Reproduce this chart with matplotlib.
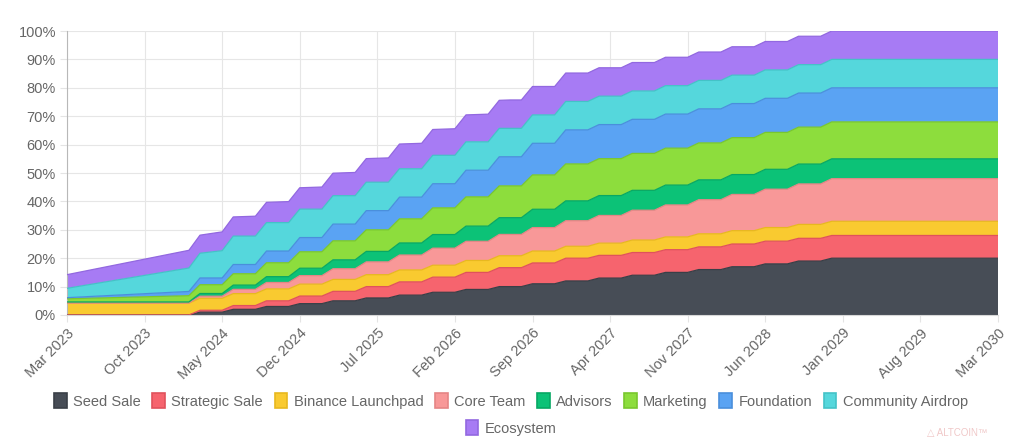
import matplotlib
matplotlib.use("Agg")
import numpy as np
import matplotlib.pyplot as plt
from matplotlib.patches import Patch

plt.rcParams['font.family'] = ['Liberation Sans', 'DejaVu Sans']

# tick labels (every 7 months, Mar 2023 -> Mar 2030, monthly data points)
tick_labels = ["Mar 2023", "Oct 2023", "May 2024", "Dec 2024", "Jul 2025", "Feb 2026",
               "Sep 2026", "Apr 2027", "Nov 2027", "Jun 2028", "Jan 2029", "Aug 2029", "Mar 2030"]

names = ["Seed Sale", "Strategic Sale", "Binance Launchpad", "Core Team", "Advisors",
         "Marketing", "Foundation", "Community Airdrop", "Ecosystem"]

# unlocked share of total supply (%), one value per month
seed_sale = [0, 0, 0, 0, 0, 0, 0, 0, 0, 0, 0, 0,
             1, 1, 1, 2, 2, 2, 3, 3, 3, 4, 4, 4, 5, 5, 5, 6, 6, 6, 7, 7, 7, 8, 8, 8,
             9, 9, 9, 10, 10, 10, 11, 11, 11, 12, 12, 12, 13, 13, 13, 14, 14, 14,
             15, 15, 15, 16, 16, 16, 17, 17, 17, 18, 18, 18, 19, 19, 19,
             20, 20, 20, 20, 20, 20, 20, 20, 20, 20, 20, 20, 20, 20, 20, 20]
strategic_sale = [0, 0, 0, 0, 0, 0, 0, 0, 0, 0, 0, 0,
                  0.67, 0.67, 0.67, 1.33, 1.33, 1.33, 2.0, 2.0, 2.0, 2.67, 2.67, 2.67,
                  3.33, 3.33, 3.33, 4.0, 4.0, 4.0, 4.67, 4.67, 4.67, 5.33, 5.33, 5.33,
                  6.0, 6.0, 6.0, 6.67, 6.67, 6.67, 7.33, 7.33, 7.33,
                  8, 8, 8, 8, 8, 8, 8, 8, 8, 8, 8, 8, 8, 8, 8, 8, 8, 8, 8, 8,
                  8, 8, 8, 8, 8, 8, 8, 8, 8, 8, 8, 8, 8, 8, 8, 8, 8, 8, 8, 8]
binance_launchpad = [4.2, 4.2, 4.2, 4.2, 4.2, 4.2, 4.2, 4.2, 4.2, 4.2, 4.2, 4.2,
                     4.2, 4.2, 4.2, 4.2, 4.2, 4.2, 4.2, 4.2, 4.2, 4.2, 4.2, 4.2,
                     4.2, 4.2, 4.2, 4.2, 4.2, 4.2, 4.2, 4.2, 4.2, 4.2, 4.2, 4.2,
                     4.2, 4.2, 4.2, 4.2, 4.2, 4.2, 4.2, 4.2, 4.2, 4.2, 4.2, 4.2,
                     4.3, 4.3, 4.3, 4.4, 4.4, 4.4, 4.5, 4.5, 4.5, 4.6, 4.6, 4.6,
                     4.7, 4.7, 4.7, 4.8, 4.8, 4.8, 4.9, 4.9, 4.9,
                     5, 5, 5, 5, 5, 5, 5, 5, 5, 5, 5, 5, 5, 5, 5, 5]
core_team = [0, 0, 0, 0, 0, 0, 0, 0, 0, 0, 0, 0,
             0.75, 0.75, 0.75, 1.5, 1.5, 1.5, 2.25, 2.25, 2.25, 3.0, 3.0, 3.0,
             3.75, 3.75, 3.75, 4.5, 4.5, 4.5, 5.25, 5.25, 5.25, 6.0, 6.0, 6.0,
             6.75, 6.75, 6.75, 7.5, 7.5, 7.5, 8.25, 8.25, 8.25, 9.0, 9.0, 9.0,
             9.75, 9.75, 9.75, 10.5, 10.5, 10.5, 11.25, 11.25, 11.25, 12.0, 12.0, 12.0,
             12.75, 12.75, 12.75, 13.5, 13.5, 13.5, 14.25, 14.25, 14.25,
             15, 15, 15, 15, 15, 15, 15, 15, 15, 15, 15, 15, 15, 15, 15, 15]
advisors = [0.4, 0.4, 0.4, 0.4, 0.4, 0.4, 0.4, 0.4, 0.4, 0.4, 0.4, 0.4,
            0.95, 0.95, 0.95, 1.5, 1.5, 1.5, 2.05, 2.05, 2.05, 2.6, 2.6, 2.6,
            3.15, 3.15, 3.15, 3.7, 3.7, 3.7, 4.25, 4.25, 4.25, 4.8, 4.8, 4.8,
            5.35, 5.35, 5.35, 5.9, 5.9, 5.9, 6.45, 6.45, 6.45,
            7, 7, 7, 7, 7, 7, 7, 7, 7, 7, 7, 7, 7, 7, 7, 7, 7, 7, 7, 7,
            7, 7, 7, 7, 7, 7, 7, 7, 7, 7, 7, 7, 7, 7, 7, 7, 7, 7, 7, 7]
marketing = [1.1, 1.2, 1.3, 1.4, 1.5, 1.6, 1.7, 1.8, 1.9, 2.0, 2.1, 2.2,
             3.1, 3.1, 3.1, 4.0, 4.0, 4.0, 4.9, 4.9, 4.9, 5.8, 5.8, 5.8,
             6.7, 6.7, 6.7, 7.6, 7.6, 7.6, 8.5, 8.5, 8.5, 9.4, 9.4, 9.4,
             10.3, 10.3, 10.3, 11.2, 11.2, 11.2, 12.1, 12.1, 12.1,
             13, 13, 13, 13, 13, 13, 13, 13, 13, 13, 13, 13, 13, 13, 13, 13, 13, 13, 13, 13,
             13, 13, 13, 13, 13, 13, 13, 13, 13, 13, 13, 13, 13, 13, 13, 13, 13, 13, 13, 13]
foundation = [0.4, 0.5, 0.6, 0.7, 0.8, 0.9, 1.0, 1.1, 1.2, 1.3, 1.4, 1.5,
              2.38, 2.38, 2.38, 3.25, 3.25, 3.25, 4.13, 4.13, 4.13, 5.0, 5.0, 5.0,
              5.88, 5.88, 5.88, 6.75, 6.75, 6.75, 7.63, 7.63, 7.63, 8.5, 8.5, 8.5,
              9.38, 9.38, 9.38, 10.25, 10.25, 10.25, 11.13, 11.13, 11.13,
              12, 12, 12, 12, 12, 12, 12, 12, 12, 12, 12, 12, 12, 12, 12, 12, 12, 12, 12, 12,
              12, 12, 12, 12, 12, 12, 12, 12, 12, 12, 12, 12, 12, 12, 12, 12, 12, 12, 12, 12]
community_airdrop = [3.3, 3.75, 4.2, 4.65, 5.1, 5.55, 6.0, 6.45, 6.9, 7.35, 7.8, 8.25,
                     8.7, 9.15, 9.6, 10, 10, 10, 10, 10, 10, 10, 10, 10, 10, 10, 10, 10, 10, 10,
                     10, 10, 10, 10, 10, 10, 10, 10, 10, 10, 10, 10, 10, 10, 10, 10, 10, 10,
                     10, 10, 10, 10, 10, 10, 10, 10, 10, 10, 10, 10, 10, 10, 10, 10, 10, 10,
                     10, 10, 10, 10, 10, 10, 10, 10, 10, 10, 10, 10, 10, 10, 10, 10, 10, 10, 10]
ecosystem = [4.8, 4.93, 5.06, 5.19, 5.32, 5.45, 5.58, 5.71, 5.84, 5.97, 6.1, 6.23,
             6.36, 6.49, 6.62, 6.75, 6.88, 7.01, 7.14, 7.27, 7.4, 7.53, 7.66, 7.79,
             7.92, 8.05, 8.18, 8.31, 8.44, 8.57, 8.7, 8.83, 8.96, 9.09, 9.22, 9.35,
             9.48, 9.61, 9.74, 9.87, 10, 10, 10, 10, 10, 10, 10, 10, 10, 10, 10, 10,
             10, 10, 10, 10, 10, 10, 10, 10, 10, 10, 10, 10, 10, 10, 10, 10, 10, 10,
             10, 10, 10, 10, 10, 10, 10, 10, 10, 10, 10, 10, 10, 10, 10]

series = [seed_sale, strategic_sale, binance_launchpad, core_team, advisors,
          marketing, foundation, community_airdrop, ecosystem]
colors = ["#474d56", "#f6646e", "#f9ca30", "#f89898", "#0cc277",
          "#8ddd3d", "#5aa3f3", "#55d7dc", "#a77bf4"]
edges = ["#3a3f47", "#e0525c", "#e8b81f", "#e58585", "#07a864",
         "#79c72e", "#4a8fdc", "#44c2c7", "#9268e0"]

x = np.arange(len(seed_sale))

fig = plt.figure(figsize=(10.24, 4.48), dpi=100)
ax = fig.add_axes([67 / 1024, 1 - 315 / 448, 931 / 1024, 284 / 448])

polys = ax.stackplot(x, *series, colors=colors, linewidth=0, zorder=2)
tops = np.cumsum(np.array(series, dtype=float), axis=0)
for top, ec in zip(tops, edges):
    ax.plot(x, top, color=ec, lw=0.9, zorder=3)

ax.set_xlim(0, 84)
ax.set_ylim(0, 100)
ax.set_xticks(np.arange(0, 85, 7))
ax.set_xticklabels(tick_labels, rotation=45, ha="right", rotation_mode="anchor",
                   fontsize=10.5, color="#666666")
ax.set_yticks(np.arange(0, 101, 10))
ax.set_yticklabels([f"{v}%" for v in range(0, 101, 10)], fontsize=10.5, color="#666666")
ax.tick_params(axis="both", length=5, color="#e4e4e4", pad=3)
ax.grid(True, color="#e6e6e6", lw=0.8, zorder=0)
ax.set_axisbelow(True)
for side in ["top", "right"]:
    ax.spines[side].set_visible(False)
ax.spines["left"].set_color("#b8b8b8")
ax.spines["bottom"].set_color("#d8d8d8")

handles = [Patch(facecolor=c, edgecolor=e, linewidth=1.2) for c, e in zip(colors, edges)]
leg_kw = dict(frameon=False, fontsize=10.5, handlelength=0.85, handleheight=1.15,
              handletextpad=0.45, columnspacing=0.8, labelcolor="#666666",
              borderpad=0, loc="center")
fig.legend(handles[:8], names[:8], ncol=8, bbox_to_anchor=(0.499, 1 - 401 / 448), **leg_kw)
fig.legend(handles[8:], names[8:], ncol=1, bbox_to_anchor=(0.499, 1 - 428 / 448), **leg_kw)

fig.text(0.935, 1 - 433 / 448, "\u25b3 ALTCOIN\u2122", fontsize=7, color="#f0c8c8",
         ha="center", va="center")

fig.savefig("out.png", dpi=100)
